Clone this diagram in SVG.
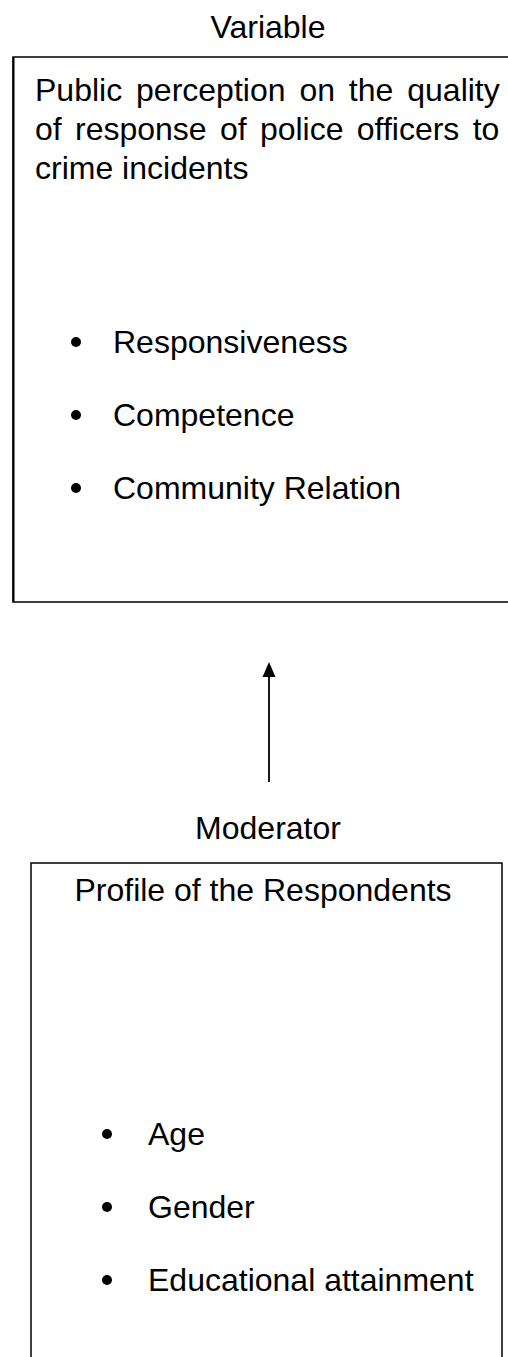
<svg xmlns="http://www.w3.org/2000/svg" width="508" height="1357" viewBox="0 0 508 1357">
<defs>
<style>
.t{font-family:"Liberation Sans",Arial,sans-serif;font-size:32px;fill:#000}
.box{fill:#fff;stroke:#000;stroke-width:1.5}
.dot{fill:#000}
</style>
</defs>
<rect width="508" height="1357" fill="#fff"/>
<g id="label-variable"><text class="t" x="268" y="38" text-anchor="middle">Variable</text></g>
<g id="node-variable">
<rect class="box" x="13" y="57" width="520" height="545"/>
<line x1="13.5" y1="57" x2="13.5" y2="602" stroke="#000" stroke-width="2"/>
<text class="t" x="35" y="101" word-spacing="5">Public perception on the quality</text>
<text class="t" x="35" y="140" word-spacing="4.4">of response of police officers to</text>
<text class="t" x="35" y="179">crime incidents</text>
<circle class="dot" cx="76" cy="342" r="5"/>
<text class="t" x="113" y="353">Responsiveness</text>
<circle class="dot" cx="76" cy="415" r="5"/>
<text class="t" x="113" y="426">Competence</text>
<circle class="dot" cx="76" cy="488" r="5"/>
<text class="t" x="113" y="499">Community Relation</text>
</g>
<g id="connectors">
<line x1="269" y1="782" x2="269" y2="674" stroke="#000" stroke-width="1.8"/>
<path d="M269,662 L262.5,677 L275.5,677 Z" fill="#000"/>
</g>
<g id="label-moderator"><text class="t" x="268" y="839" text-anchor="middle">Moderator</text></g>
<g id="node-moderator">
<rect class="box" x="31" y="863" width="471" height="520"/>
<text class="t" x="263" y="901" text-anchor="middle">Profile of the Respondents</text>
<circle class="dot" cx="107" cy="1134" r="5"/>
<text class="t" x="148" y="1145">Age</text>
<circle class="dot" cx="107" cy="1207" r="5"/>
<text class="t" x="148" y="1218">Gender</text>
<circle class="dot" cx="107" cy="1280" r="5"/>
<text class="t" x="148" y="1291">Educational attainment</text>
</g>
</svg>
